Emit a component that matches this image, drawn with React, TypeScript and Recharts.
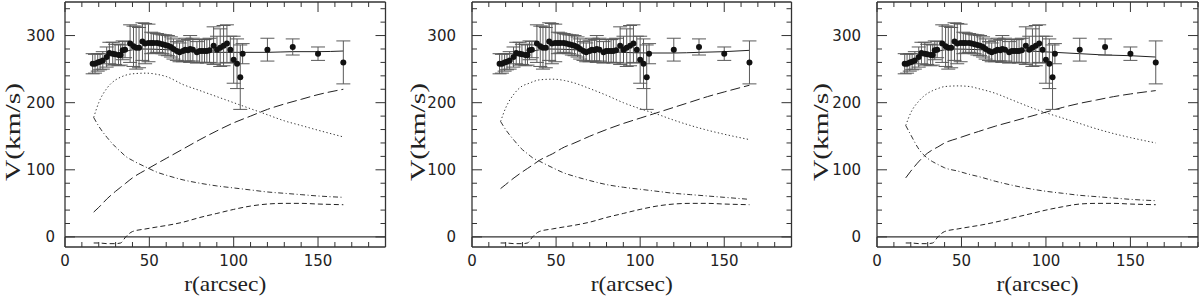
import React from "react";
import {
  ComposedChart,
  Line,
  Scatter,
  ErrorBar,
  XAxis,
  YAxis,
  ReferenceLine,
} from "recharts";

// observed rotation curve (same in all three panels)
const OBS_R = [
  16.4, 17.8, 19.4, 20.8, 22.4, 24.7, 26.3, 28.3, 29.7, 31.7, 33, 34.2, 35.6,
  38.6, 40.6, 42.2, 43.9, 45.9, 47.5, 49.5, 51.1, 52.5, 54.5, 56, 57.8, 59.4,
  61, 62.8, 64.3, 66.3, 67.9, 69.9, 71.3, 72.9, 74.2, 75.8, 78.2, 79.8, 81.2,
  82.7, 84.1, 85.7, 88.1, 90.1, 92, 94, 96, 98, 100, 102, 103.9, 105.3, 120,
  135, 150, 165,
];
const OBS_V = [
  258, 258, 260, 261, 263, 268, 274, 273, 272, 271, 271, 278, 279, 288, 284,
  282, 282, 291, 288, 289, 289, 289, 289, 288, 287, 286, 285, 283, 280, 277,
  275, 277, 279, 278, 280, 279, 275, 277, 277, 277, 277, 278, 285, 279, 282,
  285, 288, 279, 264, 258, 238, 273, 279, 283, 273, 260,
];
const OBS_ERR = [
  15, 14, 13, 12, 13, 15, 16, 17, 15, 16, 15, 14, 12, 28, 30, 32, 30, 28, 30,
  28, 16, 15, 14, 14, 14, 15, 15, 15, 15, 14, 14, 16, 17, 16, 20, 17, 16, 17,
  17, 17, 18, 18, 28, 20, 28, 30, 28, 20, 35, 37, 48, 15, 17, 12, 10, 32,
];

// model components
const MODEL_R = [17, 20, 25, 30, 33, 36, 40, 48, 55, 60, 70, 80, 90, 100, 110, 120, 130, 140, 150, 165];
const TOTAL_R = [17, 25, 35, 45, 60, 75, 90, 105, 120, 135, 150, 165];

const P1_DISK = [178, 200, 222, 234, 238, 241, 243, 244, 242, 239, 227, 218, 209, 200, 191, 182, 173, 166, 159, 149];
const P1_HALO = [37, 44, 57, 68, 74, 80, 88, 100, 110, 117, 131, 145, 158, 170, 180, 190, 198, 205, 212, 220];
const P1_BULGE = [178, 165, 148, 134, 127, 120, 114, 104, 96, 92, 85, 80, 76, 73, 70, 67, 65, 63, 61, 59];
const P1_GAS = [-9, -9, -10, -10, -9, 0, 8, 12, 15, 17, 22, 29, 35, 41, 46, 49, 50, 50, 49, 48];
const P1_TOTAL = [258, 268, 276, 280, 279, 277, 275, 275, 275, 276, 276, 277];

const P2_DISK = [172, 192, 213, 225, 228, 231, 234, 235, 233, 230, 221, 211, 200, 191, 183, 174, 166, 159, 153, 145];
const P2_HALO = [72, 78, 88, 97, 102, 107, 114, 124, 134, 139, 150, 160, 169, 177, 185, 193, 201, 209, 216, 226];
const P2_BULGE = [172, 160, 144, 130, 124, 118, 113, 103, 95, 91, 84, 78, 74, 71, 68, 65, 63, 61, 59, 56];
const P2_GAS = [-9, -9, -10, -10, -9, 0, 8, 12, 15, 17, 22, 29, 35, 41, 46, 49, 50, 50, 49, 48];
const P2_TOTAL = [258, 268, 276, 280, 279, 277, 275, 274, 274, 275, 276, 278];

const P3_DISK = [166, 185, 203, 214, 218, 221, 224, 225, 224, 221, 214, 204, 194, 185, 177, 169, 161, 154, 148, 140];
const P3_HALO = [88, 98, 113, 125, 130, 134, 140, 147, 153, 157, 165, 172, 179, 186, 193, 199, 204, 209, 213, 218];
const P3_BULGE = [166, 152, 130, 117, 112, 108, 103, 98, 93, 90, 83, 77, 72, 68, 65, 62, 60, 58, 56, 54];
const P3_GAS = [-9, -9, -10, -10, -9, 0, 8, 12, 15, 17, 22, 28, 34, 40, 45, 49, 50, 50, 49, 48];
const P3_TOTAL = [258, 268, 276, 280, 279, 278, 277, 275, 273, 271, 270, 268];

const X_TICKS = [0, 10, 20, 30, 40, 50, 60, 70, 80, 90, 100, 110, 120, 130, 140, 150, 160, 170, 180, 190];
const Y_TICKS = [0, 20, 40, 60, 80, 100, 120, 140, 160, 180, 200, 220, 240, 260, 280, 300, 320, 340];

const INK = "#333";
const TICK_FONT = "'DejaVu Sans', sans-serif";
const LABEL_FONT = "'Liberation Serif', serif";

const obsData = OBS_R.map((r, i) => ({ r, v: OBS_V[i], err: OBS_ERR[i] }));
const toSeries = (rs: number[], vs: number[]) => rs.map((r, i) => ({ r, v: vs[i] }));

const PANELS = [
  { left: 0, plotLeft: 65, plotRight: 385.5, yLabelX: 12, yTickGap: 10, disk: P1_DISK, halo: P1_HALO, bulge: P1_BULGE, gas: P1_GAS, total: P1_TOTAL },
  { left: 400, plotLeft: 472, plotRight: 791.5, yLabelX: 417, yTickGap: 16, disk: P2_DISK, halo: P2_HALO, bulge: P2_BULGE, gas: P2_GAS, total: P2_TOTAL },
  { left: 800, plotLeft: 877, plotRight: 1198, yLabelX: 820, yTickGap: 16, disk: P3_DISK, halo: P3_HALO, bulge: P3_BULGE, gas: P3_GAS, total: P3_TOTAL },
];

function Panel({ p }: { p: (typeof PANELS)[number] }) {
  const bottomTick = (props: any) => {
    const { x, y, payload } = props;
    const major = payload.value % 50 === 0;
    return (
      <g>
        <line x1={x} x2={x} y1={y} y2={y - (major ? 10 : 5)} stroke={INK} />
        {major && payload.value < 190 && (
          <text x={x} y={y + 19} textAnchor="middle" fontSize={15} fontFamily={TICK_FONT} fill="#222">
            {payload.value}
          </text>
        )}
      </g>
    );
  };
  const topTick = (props: any) => {
    const { x, y, payload } = props;
    const major = payload.value % 50 === 0;
    return <line x1={x} x2={x} y1={y} y2={y + (major ? 10 : 5)} stroke={INK} />;
  };
  const leftTick = (props: any) => {
    const { x, y, payload } = props;
    const major = payload.value % 100 === 0;
    return (
      <g>
        <line x1={x} x2={x + (major ? 10 : 5)} y1={y} y2={y} stroke={INK} />
        {major && (
          <text x={x - p.yTickGap} y={y + 5.5} textAnchor="end" fontSize={15} fontFamily={TICK_FONT} fill="#222">
            {payload.value}
          </text>
        )}
      </g>
    );
  };
  const rightTick = (props: any) => {
    const { x, y, payload } = props;
    const major = payload.value % 100 === 0;
    return <line x1={x} x2={x - (major ? 10 : 5)} y1={y} y2={y} stroke={INK} />;
  };

  const xLabel = () => (
    <text x={(p.plotLeft + p.plotRight) / 2 - p.left} y={291} textAnchor="middle" fontSize={21} fontFamily={LABEL_FONT}
      fill="#222" textLength={82} lengthAdjust="spacingAndGlyphs">
      r(arcsec)
    </text>
  );
  const yLabel = () => {
    const cx = p.yLabelX - p.left + 8;
    const cy = 132;
    return (
      <text x={cx} y={cy} textAnchor="middle" fontSize={20} fontFamily={LABEL_FONT} fill="#222"
        textLength={98} lengthAdjust="spacingAndGlyphs" transform={`rotate(-90 ${cx} ${cy})`}>
        V(km/s)
      </text>
    );
  };

  const common = { xAxisId: "b", yAxisId: "l", dataKey: "v", type: "monotone" as const, dot: false, isAnimationActive: false, strokeWidth: 1 };

  return (
    <div style={{ position: "absolute", left: p.left, top: 0 }}>
      <ComposedChart width={400} height={300} margin={{ top: 0, bottom: 0, left: 0, right: 0 }}>
        <XAxis xAxisId="b" dataKey="r" type="number" domain={[0, 190]} ticks={X_TICKS} interval={0}
          height={53} tickSize={0} tickMargin={0} tick={bottomTick} tickLine={false}
          axisLine={{ stroke: INK, strokeWidth: 1.3 }} label={{ content: xLabel }} allowDataOverflow />
        <XAxis xAxisId="t" orientation="top" dataKey="r" type="number" domain={[0, 190]} ticks={X_TICKS} interval={0}
          height={2} tickSize={0} tickMargin={0} tick={topTick} tickLine={false}
          axisLine={{ stroke: INK, strokeWidth: 1.3 }} allowDataOverflow />
        <YAxis yAxisId="l" dataKey="v" type="number" domain={[-15, 350]} ticks={Y_TICKS} interval={0}
          width={p.plotLeft - p.left} tickSize={0} tickMargin={0} tick={leftTick} tickLine={false}
          axisLine={{ stroke: INK, strokeWidth: 1.3 }} label={{ content: yLabel }} allowDataOverflow />
        <YAxis yAxisId="r" orientation="right" dataKey="v" type="number" domain={[-15, 350]} ticks={Y_TICKS} interval={0}
          width={p.left + 400 - p.plotRight} tickSize={0} tickMargin={0} tick={rightTick} tickLine={false}
          axisLine={{ stroke: INK, strokeWidth: 1.3 }} allowDataOverflow />
        <ReferenceLine xAxisId="b" yAxisId="l" y={0} stroke={INK} strokeWidth={1.2} />
        <Line {...common} data={toSeries(MODEL_R, p.disk)} stroke="#333" strokeDasharray="1.3 2.4" />
        <Line {...common} data={toSeries(MODEL_R, p.halo)} stroke="#222" strokeDasharray="10 4" />
        <Line {...common} data={toSeries(MODEL_R, p.bulge)} stroke="#333" strokeDasharray="5 2.5 1 2.5" />
        <Line {...common} data={toSeries(MODEL_R, p.gas)} stroke="#222" strokeDasharray="5 3" />
        <Line {...common} data={toSeries(TOTAL_R, p.total)} stroke="#222" />
        <Scatter xAxisId="b" yAxisId="l" data={obsData} dataKey="v" isAnimationActive={false}
          shape={(s: any) => <circle cx={s.cx} cy={s.cy} r={3} fill="#111" />}>
          <ErrorBar dataKey="err" direction="y" width={7} stroke="#5a5a5a" strokeWidth={1} />
        </Scatter>
      </ComposedChart>
    </div>
  );
}

export default function App() {
  return (
    <div style={{ position: "absolute", left: 0, top: 0, width: 1200, height: 300, background: "#fff" }}>
      {PANELS.map((p) => (
        <Panel key={p.left} p={p} />
      ))}
    </div>
  );
}
